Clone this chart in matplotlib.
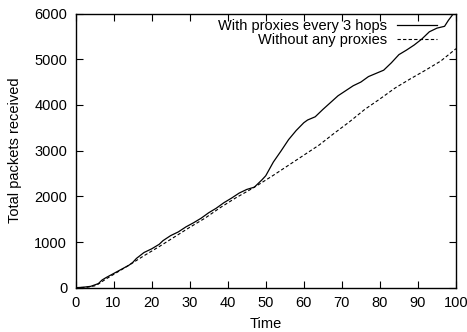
import matplotlib
matplotlib.use("Agg")
import matplotlib.pyplot as plt

plt.rcParams['font.family'] = ['Liberation Sans', 'DejaVu Sans']

# time / packets
t_proxy = [0, 2, 4, 5, 6, 7, 8, 10, 12, 14, 15, 16, 18, 20, 22, 23, 25, 27, 29, 31,
           33, 35, 37, 39, 41, 43, 45, 47, 49, 50, 52, 54, 56, 58, 60, 61, 63, 65,
           67, 69, 71, 73, 75, 77, 79, 81, 83, 85, 87, 89, 91, 93, 95, 96, 97, 98, 99]
v_proxy = [0, 10, 30, 60, 90, 170, 220, 310, 400, 490, 550, 640, 770, 850, 950, 1030,
           1140, 1220, 1330, 1420, 1520, 1640, 1740, 1860, 1960, 2070, 2150, 2200,
           2360, 2450, 2750, 2990, 3240, 3440, 3610, 3670, 3740, 3900, 4050, 4200,
           4310, 4420, 4500, 4620, 4690, 4760, 4920, 5100, 5200, 5310, 5440, 5600,
           5680, 5700, 5720, 5850, 5960]

t_plain = [0, 3, 5, 6, 8, 10, 14, 18, 22, 26, 30, 34, 38, 42, 46, 48, 52, 56, 60,
           64, 68, 72, 76, 80, 84, 88, 92, 96, 100]
v_plain = [0, 10, 40, 80, 190, 290, 490, 700, 900, 1110, 1320, 1520, 1750, 1960,
           2150, 2250, 2460, 2680, 2900, 3120, 3380, 3630, 3900, 4130, 4370, 4570,
           4760, 4960, 5230]

fig = plt.figure(figsize=(4.67, 3.32), dpi=100)
ax = fig.add_axes([0.1617, 0.1334, 0.8147, 0.8259])

ax.plot(t_proxy, v_proxy, color='black', lw=0.9, label='With proxies every 3 hops')
ax.plot(t_plain, v_plain, color='black', lw=0.8, linestyle=(0, (3, 2)),
        label='Without any proxies')

ax.set_xlim(0, 100)
ax.set_ylim(0, 6000)
ax.set_xticks(range(0, 101, 10))
ax.set_yticks(range(0, 6001, 1000))
ax.tick_params(direction='in', length=5, width=0.8, top=True, right=True,
               labelsize=10.5, pad=6)
for s in ax.spines.values():
    s.set_linewidth(1.0)

ax.set_xlabel('Time', fontsize=10.5, labelpad=5)
ax.set_ylabel('Total packets received', fontsize=10.5, labelpad=9)

ax.legend(loc='upper right', bbox_to_anchor=(0.968, 1.008), frameon=False,
          markerfirst=False, fontsize=10.5, borderpad=0, handlelength=2.7,
          handletextpad=0.7, labelspacing=0.05)

plt.savefig('out.png', dpi=100)
